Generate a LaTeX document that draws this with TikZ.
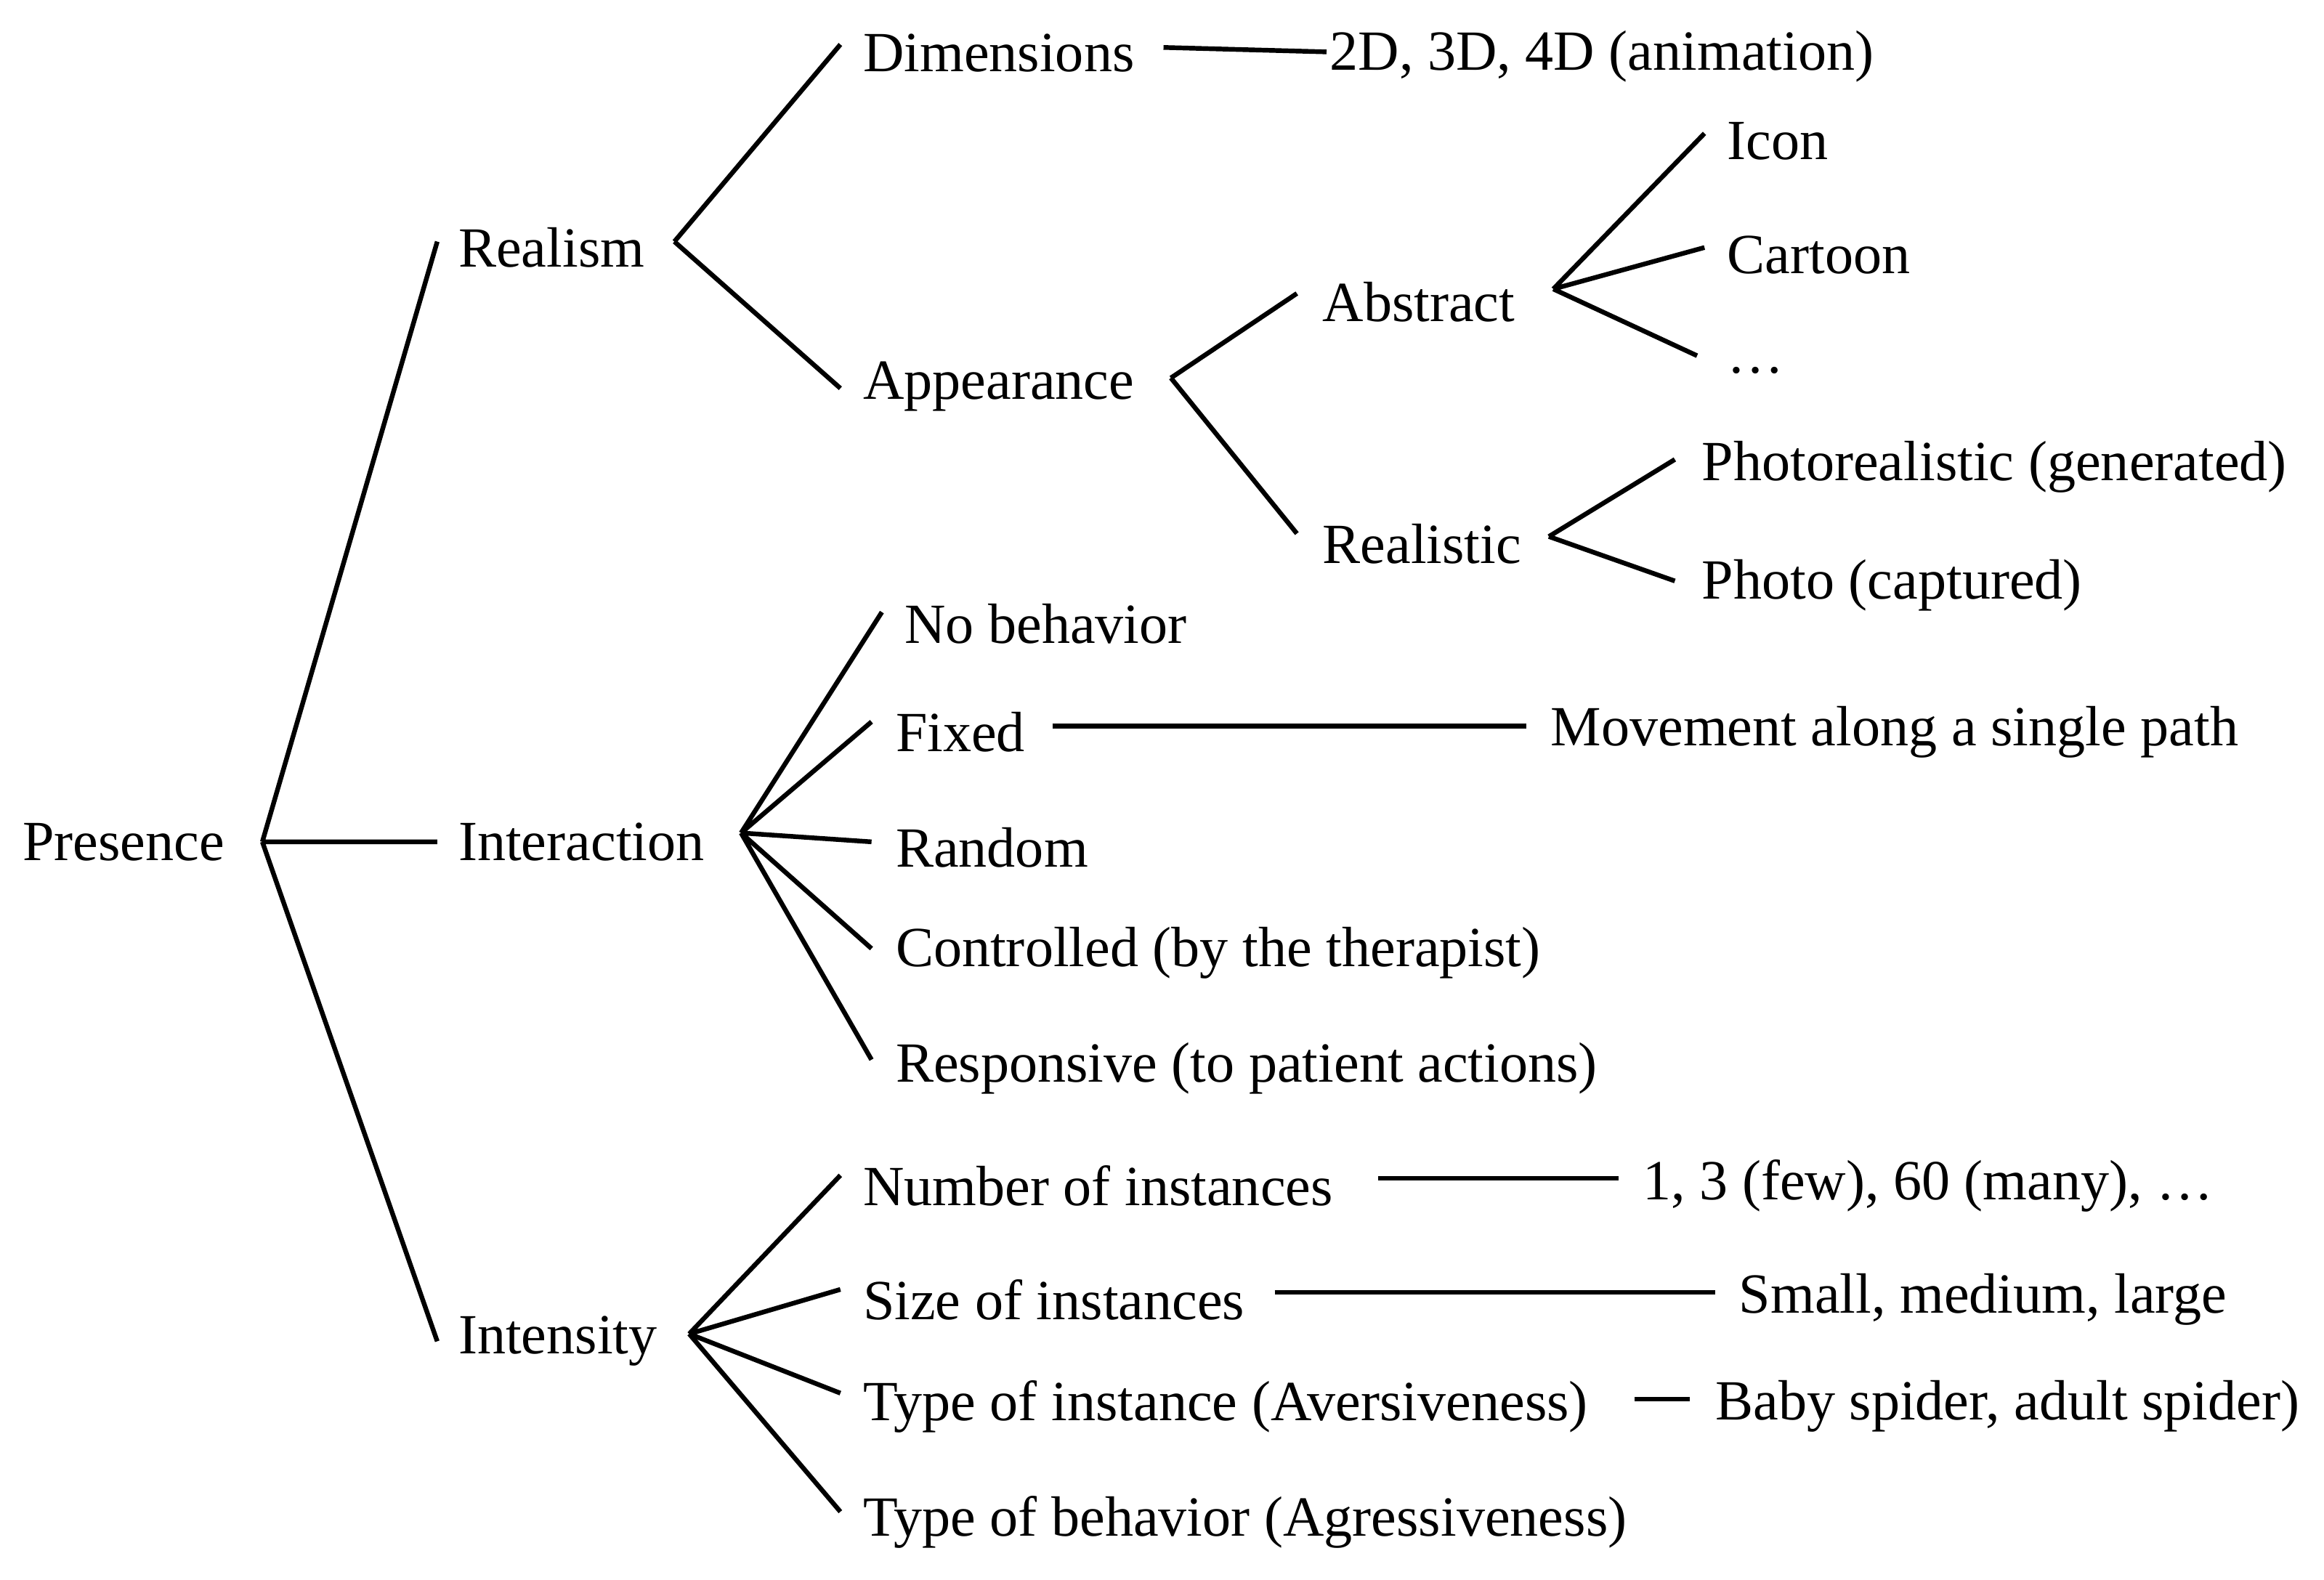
\documentclass[tikz,border=0pt]{standalone}
\usepackage{fontspec}
\setmainfont{Liberation Serif}
\begin{document}
\begin{tikzpicture}[x=0.02cm,y=-0.02cm,
  lbl/.style={anchor=west,inner sep=0pt,font=\fontsize{21.8}{24}\selectfont},
  ln/.style={line width=1.8pt}]
\useasboundingbox (0,0) rectangle (1568,1066);
% labels
\node[lbl] (presence) at (15,568) {Presence};
\node[lbl] (realism) at (309,167) {Realism};
\node[lbl] (interaction) at (309,568) {Interaction};
\node[lbl] (intensity) at (309,905) {Intensity};
\node[lbl] (dim) at (582,36) {Dimensions};
\node[lbl] (app) at (582,261) {Appearance};
\node[lbl] (dimv) at (897,38) {2D, 3D, 4D (animation)};
\node[lbl] (abs) at (892,204) {Abstract};
\node[lbl] (real) at (892,367) {Realistic};
\node[lbl] (icon) at (1165,95) {Icon};
\node[lbl] (cartoon) at (1165,172) {Cartoon};
\node[lbl] (dots) at (1165,250) {\dots};
\node[lbl] (photoreal) at (1148,315) {Photorealistic (generated)};
\node[lbl] (photo) at (1148,395) {Photo (captured)};
\node[lbl] (nob) at (610,421) {No behavior};
\node[lbl] (fixed) at (604,494) {Fixed};
\node[lbl] (move) at (1046,494) {Movement along a single path};
\node[lbl] (random) at (604,572) {Random};
\node[lbl] (ctrl) at (604,643) {Controlled (by the therapist)};
\node[lbl] (resp) at (604,721) {Responsive (to patient actions)};
\node[lbl] (num) at (582,800) {Number of instances};
\node[lbl] (numv) at (1108,800) {1, 3 (few), 60 (many), \dots};
\node[lbl] (size) at (582,877) {Size of instances};
\node[lbl] (sizev) at (1173,877) {Small, medium, large};
\node[lbl] (type) at (582,949) {Type of instance (Aversiveness)};
\node[lbl] (typev) at (1157,949) {Baby spider, adult spider)};
\node[lbl] (beh) at (582,1027) {Type of behavior (Agressiveness)};
% hubs
\coordinate (hP) at (177,568);
\coordinate (hR) at (455,163);
\coordinate (hA) at (790,255);
\coordinate (hAb) at (1048,195);
\coordinate (hRe) at (1045,362);
\coordinate (hI) at (500,562);
\coordinate (hN) at (465,900);
\draw[ln] (hP) -- (295,163) (hP) -- (295,568) (hP) -- (295,905);
\draw[ln] (hR) -- (567,30) (hR) -- (567,262);
\draw[ln] (785,32) -- (895,35);
\draw[ln] (hA) -- (875,198) (hA) -- (875,360);
\draw[ln] (hAb) -- (1150,90) (hAb) -- (1150,167) (hAb) -- (1145,240);
\draw[ln] (hRe) -- (1130,310) (hRe) -- (1130,392);
\draw[ln] (hI) -- (595,413) (hI) -- (588,487) (hI) -- (588,568) (hI) -- (588,640) (hI) -- (588,715);
\draw[ln] (710,490) -- (1030,490);
\draw[ln] (hN) -- (567,793) (hN) -- (567,870) (hN) -- (567,940) (hN) -- (567,1020);
\draw[ln] (930,795) -- (1092,795);
\draw[ln] (860,872) -- (1157,872);
\draw[ln] (1103,944) -- (1140,944);
\end{tikzpicture}
\end{document}
